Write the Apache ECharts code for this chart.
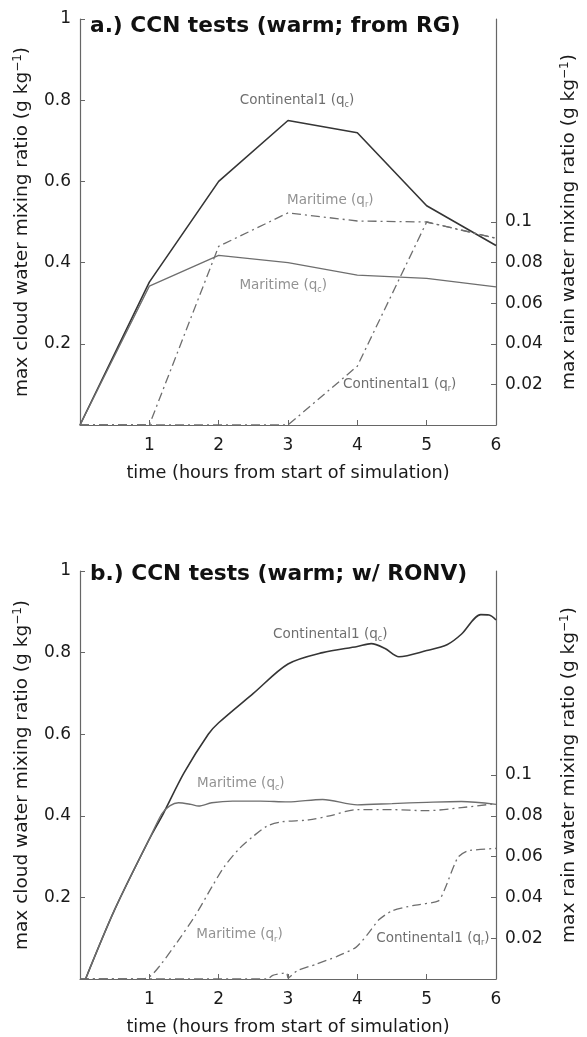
<!DOCTYPE html>
<html><head><meta charset="utf-8">
<script src="https://cdn.jsdelivr.net/npm/echarts@6/dist/echarts.min.js"></script>
<style>html,body{margin:0;padding:0;background:#fff}#c{width:587px;height:1037px}</style>
</head><body><div id="c"></div>
<script>
// ---------- data ----------
const xTickVals = [1, 2, 3, 4, 5, 6];
const leftTickVals = [0.2, 0.4, 0.6, 0.8, 1];
const rightTickVals = [0.02, 0.04, 0.06, 0.08, 0.1];

// panel a (hourly output)
const hoursA = [0, 1, 2, 3, 4, 5, 6];
const contQcA = [0, 0.352, 0.60, 0.75, 0.72, 0.54, 0.442];
const mariQcA = [0, 0.342, 0.418, 0.40, 0.369, 0.361, 0.340];
const mariQrA = [0, 0, 0.088, 0.1045, 0.1005, 0.100, 0.092];
const contQrA = [0, 0, 0, 0, 0.029, 0.100, 0.092];

// panel b
const contQcB_t = [0.08, 0.5, 1.0, 1.2, 1.5, 1.85, 2.0, 2.5, 3.0, 3.5, 4.0, 4.2, 4.4, 4.6, 5.0, 5.3, 5.5, 5.78, 5.9, 6.0];
const contQcB   = [0, 0.17, 0.343, 0.405, 0.505, 0.60, 0.628, 0.70, 0.772, 0.80, 0.815, 0.822, 0.81, 0.79, 0.805, 0.82, 0.845, 0.893, 0.892, 0.88];
const mariQcB_t = [0.08, 0.5, 1.0, 1.18, 1.3, 1.42, 1.6, 1.71, 1.9, 2.2, 2.6, 3.0, 3.5, 4.0, 4.5, 5.0, 5.5, 6.0];
const mariQcB   = [0, 0.17, 0.343, 0.405, 0.425, 0.432, 0.428, 0.424, 0.432, 0.436, 0.436, 0.434, 0.44, 0.427, 0.43, 0.433, 0.435, 0.428];
const mariQrB_t = [0, 0.9, 1.0, 1.14, 1.4, 1.66, 1.9, 2.08, 2.3, 2.5, 2.7, 2.9, 3.3, 3.6, 4.0, 4.5, 5.0, 5.5, 6.0];
const mariQrB   = [0, 0, 0.001, 0.006, 0.018, 0.031, 0.045, 0.055, 0.064, 0.070, 0.075, 0.077, 0.078, 0.080, 0.083, 0.083, 0.0825, 0.084, 0.086];
const contQrB_t = [0, 2.7, 2.78, 2.98, 3.0, 3.13, 3.41, 3.7, 3.98, 4.15, 4.31, 4.5, 4.8, 5.17, 5.26, 5.45, 5.59, 6.0];
const contQrB   = [0, 0, 0.0018, 0.003, 0.0005, 0.004, 0.0073, 0.011, 0.0155, 0.022, 0.029, 0.0334, 0.036, 0.0383, 0.044, 0.0596, 0.0628, 0.064];

// titles and curve annotations (text, hour, left-axis value, tone)
const titles = ['a.) CCN tests (warm; from RG)', 'b.) CCN tests (warm; w/ RONV)'];
const xName = 'time (hours from start of simulation)';
const leftName = 'max cloud water mixing ratio (g kg{sup|\u22121})';
const rightName = 'max rain water mixing ratio (g kg{sup|\u22121})';
const annotA = [
  ['Continental1 (q{s|c})', 3.13, 0.80, 'dark'],
  ['Maritime (q{s|r})', 3.61, 0.552, 'light'],
  ['Maritime (q{s|c})', 2.93, 0.344, 'light'],
  ['Continental1 (q{s|r})', 4.61, 0.0996, 'dark']
];
const annotB = [
  ['Continental1 (q{s|c})', 3.61, 0.845, 'dark'],
  ['Maritime (q{s|c})', 2.32, 0.48, 'light'],
  ['Maritime (q{s|r})', 2.30, 0.108, 'light'],
  ['Continental1 (q{s|r})', 5.09, 0.100, 'dark']
];

// ---------- chart ----------
const FONT = '"DejaVu Sans", "Liberation Sans", Arial, sans-serif';
const AXC = '#666';
const TXT = '#1a1a1a';
const pairs = (xs, ys) => xs.map((x, i) => [x, ys[i]]);

function xAx(g) {
  return {
    type: 'value', gridIndex: g, min: 0, max: 6, interval: 1,
    axisLine: { show: true, lineStyle: { color: AXC, width: 1.2 } },
    axisTick: { show: true, inside: true, length: 5, customValues: xTickVals, lineStyle: { color: AXC } },
    axisLabel: { customValues: xTickVals, fontSize: 17, color: TXT, fontFamily: FONT, margin: 12 },
    splitLine: { show: false },
    name: xName, nameLocation: 'middle', nameGap: 39,
    nameTextStyle: { fontSize: 17.7, color: TXT, fontFamily: FONT }
  };
}
function yAx(g, side) {
  const left = side === 'left';
  return {
    type: 'value', gridIndex: g, position: side, min: 0, max: left ? 1 : 0.2,
    interval: left ? 0.2 : 0.02,
    axisLine: { show: true, onZero: false, lineStyle: { color: AXC, width: 1.2 } },
    axisTick: { show: true, inside: true, length: 5, customValues: left ? leftTickVals : rightTickVals, lineStyle: { color: AXC } },
    axisLabel: { customValues: left ? leftTickVals : rightTickVals, fontSize: 17, color: TXT, fontFamily: FONT, margin: 9 },
    splitLine: { show: false },
    name: left ? leftName : rightName, nameLocation: 'middle', nameRotate: 90,
    nameGap: left ? 47 : 63,
    nameTextStyle: { fontSize: 18.5, color: TXT, fontFamily: FONT,
      rich: { sup: { fontSize: 12, color: TXT, fontFamily: FONT, padding: [0, 0, 9, 0] } } }
  };
}
const lineC = { color: '#353535', width: 1.6 };
const lineM = { color: '#6e6e6e', width: 1.3 };
const lineR = { color: '#6e6e6e', width: 1.3, type: [9, 4, 2, 4] };
function ln(g, yi, data, style, smooth) {
  return { type: 'line', xAxisIndex: g, yAxisIndex: yi, data: data, showSymbol: false, symbol: 'none',
    lineStyle: style, smooth: smooth || false, silent: true, animation: false };
}
function annot(g, list) {
  return {
    type: 'scatter', xAxisIndex: g, yAxisIndex: g * 2, symbolSize: 0, silent: true, animation: false,
    data: list.map(a => {
      const col = a[3] === 'dark' ? '#4a4a4a' : '#777';
      return {
        value: [a[1], a[2]],
        label: {
          show: true, position: 'inside', formatter: a[0],
          fontSize: 13.5, fontFamily: FONT, color: col,
          rich: { s: { fontSize: 8, fontFamily: FONT, color: col, padding: [9, 0, 0, 0] } }
        }
      };
    })
  };
}

const option = {
  backgroundColor: '#fff',
  animation: false,
  title: titles.map((t, i) => ({
    text: t, left: 85, top: i === 0 ? 10 : 558,
    textStyle: { fontSize: 21.7, fontWeight: 'bold', color: '#111', fontFamily: FONT }
  })),
  grid: [
    { left: 80, width: 422, top: 19, height: 406 },
    { left: 80, width: 422, top: 571, height: 409 }
  ],
  xAxis: [xAx(0), xAx(1)],
  yAxis: [yAx(0, 'left'), yAx(0, 'right'), yAx(1, 'left'), yAx(1, 'right')],
  series: [
    ln(0, 0, pairs(hoursA, contQcA), lineC),
    ln(0, 0, pairs(hoursA, mariQcA), lineM),
    ln(0, 1, pairs(hoursA, mariQrA), lineR),
    ln(0, 1, pairs(hoursA, contQrA), lineR),
    ln(1, 2, pairs(contQcB_t, contQcB), lineC, 0.3),
    ln(1, 2, pairs(mariQcB_t, mariQcB), lineM, 0.3),
    ln(1, 3, pairs(mariQrB_t, mariQrB), lineR, 0.3),
    ln(1, 3, pairs(contQrB_t, contQrB), lineR, 0.2),
    annot(0, annotA),
    annot(1, annotB)
  ]
};

const chart = echarts.init(document.getElementById('c'), null, { renderer: 'canvas' });
chart.setOption(option);
</script></body></html>
